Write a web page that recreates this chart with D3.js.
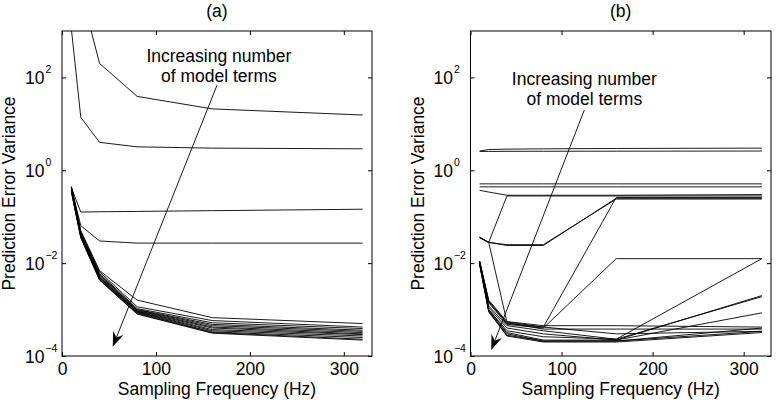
<!DOCTYPE html>
<html>
<head>
<meta charset="utf-8">
<style>
  body { margin: 0; background: #fff; }
  svg { display: block; font-family: "Liberation Sans", Arial, sans-serif; }
  .frame { fill: none; stroke: #000; stroke-width: 1; }
  .curve { fill: none; stroke: #000; stroke-width: 0.9; }
  .tick line { stroke: #000; }
  .domain { display: none; }
</style>
</head>
<body>
<svg id="chart" width="782" height="406"></svg>
<script src="https://d3js.org/d3.v7.min.js"></script>
<script>
// sampling frequencies (Hz)
const freq = [10, 20, 40, 80, 160, 320];
const xTicks = [0, 100, 200, 300];
const yTickExp = [-4, -2, 0, 2];

// panel (a): prediction error variance per model size
const seriesA = [
  [1100, 13.8, 4.0, 3.2, 3.0, 2.9],
  [1e6, 7400, 200, 39, 21, 15.5],
  [0.42, 0.126, 0.128, 0.13, 0.135, 0.145],
  [0.42, 0.064, 0.030, 0.027, 0.027, 0.027],
  [0.45, 0.050, 0.0069, 0.0016, 0.00067, 0.00050],
  [0.43, 0.047, 0.0065, 0.00115, 0.00058, 0.00042],
  [0.42, 0.045, 0.0060, 0.00105, 0.00052, 0.00039],
  [0.41, 0.043, 0.0057, 0.00100, 0.00048, 0.00036],
  [0.40, 0.042, 0.0055, 0.00098, 0.00045, 0.00034],
  [0.40, 0.041, 0.0052, 0.00095, 0.00042, 0.00032],
  [0.39, 0.040, 0.0050, 0.00092, 0.00040, 0.00030],
  [0.38, 0.039, 0.0048, 0.00090, 0.00037, 0.00029],
  [0.37, 0.038, 0.0047, 0.00088, 0.00035, 0.00027],
  [0.36, 0.037, 0.0045, 0.00085, 0.00033, 0.00025],
  [0.35, 0.036, 0.0044, 0.00082, 0.00032, 0.00023],
  [0.34, 0.035, 0.0043, 0.00080, 0.00031, 0.00022]
];

// panel (b)
const seriesB = [
  [2.6, 2.8, 2.85, 2.9, 2.95, 3.0],
  [2.55, 2.55, 2.56, 2.57, 2.58, 2.6],
  [0.51, 0.51, 0.51, 0.51, 0.51, 0.51],
  [0.44, 0.44, 0.44, 0.44, 0.44, 0.44],
  [0.37, 0.34, 0.29, 0.29, 0.29, 0.30],
  [0.036, 0.028, 0.28, 0.28, 0.28, 0.28],
  [0.036, 0.028, 0.024, 0.024, 0.25, 0.25],
  [0.035, 0.028, 0.025, 0.025, 0.24, 0.24],
  [0.036, 0.028, 0.00054, 0.00042, 0.00030, 0.00034],
  [0.011, 0.0015, 0.00050, 0.00042, 0.26, 0.26],
  [0.011, 0.0014, 0.00048, 0.00040, 0.0125, 0.0125],
  [0.0105, 0.0012, 0.00045, 0.00035, 0.00023, 0.0125],
  [0.0105, 0.0011, 0.00040, 0.00030, 0.00022, 0.0020],
  [0.010, 0.0010, 0.00035, 0.00026, 0.00023, 0.0019],
  [0.010, 0.0010, 0.00032, 0.00022, 0.00022, 0.00085],
  [0.0098, 0.00095, 0.00030, 0.00021, 0.00021, 0.00040],
  [0.0095, 0.00090, 0.00028, 0.00021, 0.00021, 0.00034],
  [0.0095, 0.00090, 0.00027, 0.00020, 0.00020, 0.00032],
  [0.011, 0.0016, 0.00055, 0.00045, 0.00045, 0.00042],
  [0.011, 0.0015, 0.00052, 0.00038, 0.00038, 0.00038]
];

// annotation: [freq, value] for text anchor, arrow start, arrow tip
const annA = { text: [167, 220], from: [165, 68], to: [54, 1.58e-4] };
const annB = { text: [125, 68], from: [125, 19.9], to: [22.8, 1.35e-4] };

const svg = d3.select("#chart");
const plotTop = 31, plotBottom = 356;

function panel(id, left, right, title, series, ann) {
  const x = d3.scaleLinear().domain([0, 330]).range([left, right]);
  const y = d3.scaleLog().domain([1e-4, 1e3]).range([plotBottom, plotTop]);
  const g = svg.append("g");

  g.append("clipPath").attr("id", "clip" + id)
    .append("rect").attr("x", left).attr("y", plotTop)
    .attr("width", right - left).attr("height", plotBottom - plotTop);

  const line = d3.line().x((d, i) => x(freq[i])).y(d => y(d));
  g.append("g").attr("clip-path", "url(#clip" + id + ")")
    .selectAll("path").data(series).join("path")
    .attr("class", "curve").attr("d", line);

  // axes with inward ticks
  g.append("g").attr("transform", `translate(0,${plotBottom})`)
    .call(d3.axisBottom(x).tickValues(xTicks).tickSize(-4).tickPadding(7))
    .call(a => a.selectAll("text").attr("font-size", 17.5).attr("fill", "#000"));
  g.append("g").attr("transform", `translate(0,${plotTop})`)
    .call(d3.axisTop(x).tickValues(xTicks).tickSize(-4).tickFormat(""));
  const yv = yTickExp.map(e => Math.pow(10, e));
  g.append("g").attr("transform", `translate(${left},0)`)
    .call(d3.axisLeft(y).tickValues(yv).tickSize(-4).tickFormat(""));
  g.append("g").attr("transform", `translate(${right},0)`)
    .call(d3.axisRight(y).tickValues(yv).tickSize(-4).tickFormat(""));
  g.selectAll(".tick text").attr("font-family", "Liberation Sans, Arial, sans-serif");

  // y tick labels 10^k
  const lab = g.selectAll(".ylab").data(yTickExp).join("text")
    .attr("class", "ylab")
    .attr("x", left - 37).attr("y", e => y(Math.pow(10, e)) + 7)
    .attr("font-size", 17.5);
  lab.append("tspan").text("10");
  lab.append("tspan").attr("dy", -11).attr("dx", 1).attr("font-size", 10.5)
    .text(e => e < 0 ? "\u2212" + (-e) : String(e));

  g.append("rect").attr("class", "frame")
    .attr("x", left).attr("y", plotTop).attr("width", right - left).attr("height", plotBottom - plotTop);

  g.append("text").attr("x", (left + right) / 2).attr("y", 17)
    .attr("text-anchor", "middle").attr("font-size", 17.5).text(title);
  g.append("text").attr("x", (left + right) / 2).attr("y", 395)
    .attr("text-anchor", "middle").attr("font-size", 17.5).text("Sampling Frequency (Hz)");
  g.append("text").attr("transform", `translate(${left - 47},${(plotTop + plotBottom) / 2}) rotate(-90)`)
    .attr("text-anchor", "middle").attr("font-size", 17.5).text("Prediction Error Variance");

  // annotation
  const tx = x(ann.text[0]), ty = y(ann.text[1]);
  g.append("text").attr("x", tx).attr("y", ty).attr("text-anchor", "middle")
    .attr("font-size", 17.5).text("Increasing number");
  g.append("text").attr("x", tx).attr("y", ty + 20).attr("text-anchor", "middle")
    .attr("font-size", 17.5).text("of model terms");
  const sx = x(ann.from[0]), sy = y(ann.from[1]);
  const ex = x(ann.to[0]), ey = y(ann.to[1]);
  const dx = ex - sx, dy = ey - sy, len = Math.hypot(dx, dy);
  const ux = dx / len, uy = dy / len, px = -uy, py = ux;
  const L = 15, W = 5.5, N = 10;
  g.append("line").attr("x1", sx).attr("y1", sy)
    .attr("x2", ex - ux * N).attr("y2", ey - uy * N)
    .attr("stroke", "#000").attr("stroke-width", 0.9);
  g.append("path").attr("fill", "#000").attr("d", d3.line()([
    [ex, ey],
    [ex - ux * L + px * W, ey - uy * L + py * W],
    [ex - ux * N, ey - uy * N],
    [ex - ux * L - px * W, ey - uy * L - py * W]
  ]) + "Z");
}

panel("a", 62, 372, "(a)", seriesA, annA);
panel("b", 470.5, 771, "(b)", seriesB, annB);
</script>
</body>
</html>
